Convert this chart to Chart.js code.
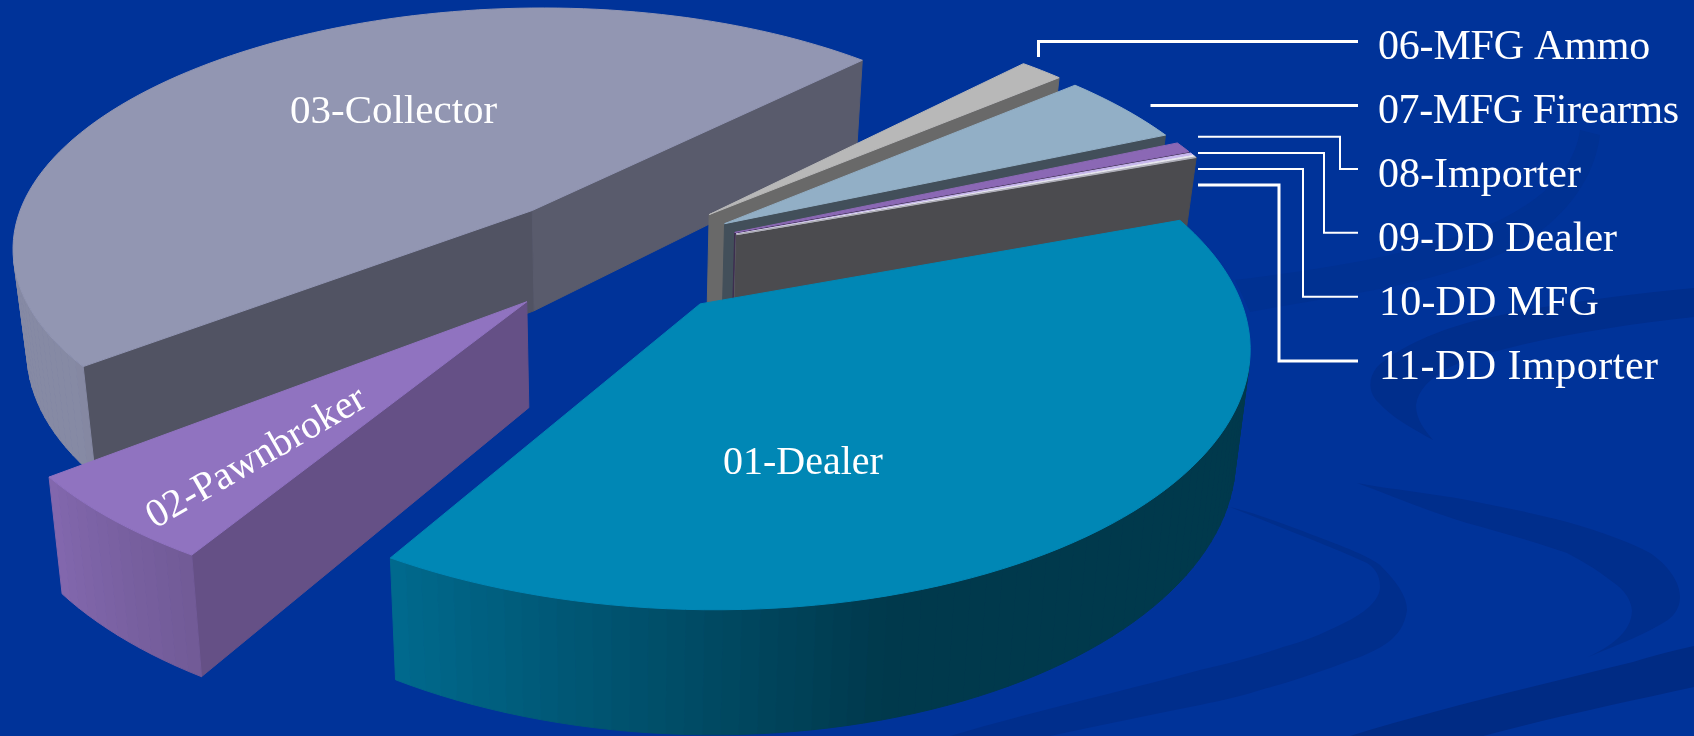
<!DOCTYPE html>
<html>
  <head>
    <meta charset="UTF-8">
    <title>License types</title>
    <script src="https://cdn.jsdelivr.net/npm/chart.js"></script>
    <style>
      html, body {
        margin: 0;
        width: 1694px;
        height: 736px;
        overflow: hidden;
        background-color: #003399;
      }
      svg, canvas {
        position: absolute;
        left: 0;
        top: 0;
      }
    </style>
  </head>
  <body>
    <svg width="1694" height="736" fill="#002e8c">
      <path d="M1235 280 C1330 268 1420 255 1500 220 C1550 195 1575 165 1580 130 L1600 135 C1595 175 1570 215 1520 245 C1440 285 1340 295 1250 312 Z" fill="#003192"/>
      <path d="M1694 288 C1620 295 1530 307 1470 322 C1430 333 1395 350 1377 367 C1368 378 1368 392 1378 402 C1392 418 1415 430 1433 440 C1425 430 1416 420 1416 405 C1418 390 1430 378 1450 367 C1500 345 1600 327 1694 317 Z"/>
      <path d="M1357 483 C1395 490 1430 493 1467 500 C1500 507 1535 513 1567 522 C1605 533 1632 543 1650 553 C1668 565 1680 582 1680 597 C1680 610 1672 618 1663 623 C1640 637 1612 647 1588 657 C1610 647 1632 632 1632 610 C1630 595 1620 587 1610 580 C1595 568 1580 560 1567 553 C1535 542 1500 532 1467 523 C1430 512 1395 497 1357 483 Z"/>
      <path d="M1230 507 C1255 513 1280 523 1300 530 C1330 542 1362 552 1380 565 C1395 580 1407 595 1407 610 C1405 625 1398 635 1387 643 C1370 655 1350 660 1333 667 C1310 675 1290 682 1267 688 C1245 695 1225 700 1200 705 C1150 715 1100 725 1050 736 L950 736 C1030 712 1120 692 1200 670 C1230 663 1260 655 1283 647 C1310 640 1330 630 1350 620 C1365 612 1380 600 1380 587 C1380 575 1375 568 1367 563 C1345 553 1320 543 1300 535 C1275 525 1250 515 1230 507 Z"/>
      <path d="M1694 646 C1670 651 1650 657 1633 662 C1540 685 1440 708 1350 736 L1483 736 C1550 718 1625 702 1694 687 Z" fill="#002b84"/>
    </svg>
    <canvas id="myChart" width="1694" height="736"></canvas>

    <script>
      const categories = ["01-Dealer", "02-Pawnbroker", "03-Collector", "06-MFG Ammo", "07-MFG Firearms",
        "08-Importer", "09-DD Dealer", "10-DD MFG", "11-DD Importer"];
      const shares = [39.2, 5.75, 47.8, 1.58, 4.6, 0.7, 0.15, 0.1, 0.05];
      const sliceColors = ["#0087b5", "#9073c0", "#9296b2", "#b8b8b8", "#92afc6", "#8b68b5", "#c8b8ee", "#e8e8f0", "#b0b0ba"];

      // text placement: x, y, font size, angle, letter spacing
      const labelSpots = [
        [723, 474, 40, 0, 0],
        [155, 529, 40, -30, 0],
        [290, 123, 41, 0, 0],
        [1378, 59, 42, 0, -0.2],
        [1378, 123, 42, 0, -0.4],
        [1378, 187, 42, 0, 0],
        [1378, 251, 42, 0, 0],
        [1379, 315, 42, 0, 0.2],
        [1379, 379, 42, 0, 0.5],
      ];
      const leaders = [
        [[1038.5, 57], [1038.5, 41.5], [1358, 41.5]],
        [[1150.5, 105.5], [1358, 105.5]],
        [[1198, 136.7], [1340, 136.7], [1340, 169], [1358, 169]],
        [[1198, 153], [1324, 153], [1324, 232.7], [1358, 232.7]],
        [[1198, 169], [1303, 169], [1303, 296.7], [1358, 296.7]],
        [[1198, 185], [1279, 185], [1279, 361], [1358, 361]],
      ];
      const leaderWidths = [3, 3, 2, 2, 2, 3];

      // camera for the tilted pie, world unit = pie radius
      const focusX = 616;
      const horizonY = -1400;
      const baseY = 255;
      const scaleX = 519;
      const tilt = 0.1478;
      const wallH = 103;
      const wallPinch = 0.023;
      const explode = 0.25;
      const sideBulge = 0.014;

      function project(X, Y, z) {
        const w = 1 + tilt * Y;
        return [
          focusX + scaleX * X / w * (1 - wallPinch * z),
          horizonY + (baseY - horizonY + wallH * z) / w,
        ];
      }

      function dim(hex, k) {
        const n = parseInt(hex.slice(1), 16);
        const r = Math.round((n >> 16) * k);
        const g = Math.round(((n >> 8) & 255) * k);
        const b = Math.round((n & 255) * k);
        return `rgb(${r},${g},${b})`;
      }

      function normalDeg(rad) {
        let d = rad * 180 / Math.PI;
        while (d > 180) d -= 360;
        while (d <= -180) d += 360;
        return d;
      }

      function rimShade(n) {
        if (n > 0 && n < 90) return 0.42;
        if (n >= 90 || n < -145) return 0.92;
        if (n < -121) return 0.78 + (-121 - n) * 0.14 / 24;
        if (n < -74) return 0.42 + (-74 - n) * 0.36 / 47;
        return 0.42;
      }

      function flatShade(n) {
        return Math.min(0.9, Math.max(0.3, 0.43 + (n + 70) * 0.007));
      }

      function fillPoly(ctx, pts, color) {
        ctx.beginPath();
        pts.forEach((p, i) => (i ? ctx.lineTo(p[0], p[1]) : ctx.moveTo(p[0], p[1])));
        ctx.closePath();
        ctx.fillStyle = color;
        ctx.strokeStyle = color;
        ctx.lineWidth = 1;
        ctx.fill();
        ctx.stroke();
      }

      function drawSlice(ctx, arc) {
        const a0 = arc.startAngle;
        const a1 = arc.endAngle;
        const mid = (a0 + a1) / 2;
        const cx = explode * Math.cos(mid);
        const cy = -explode * Math.sin(mid);
        const color = arc.options.backgroundColor;

        const steps = Math.max(1, Math.ceil((a1 - a0) / 0.03));
        const edge = [[cx, cy, flatShade(normalDeg(-a0 + Math.PI / 2))]];
        for (let i = 0; i <= steps; i++) {
          const t = a0 + (a1 - a0) * i / steps;
          const k = i === steps ? flatShade(normalDeg(-a1 - Math.PI / 2))
            : rimShade(normalDeg(-(t + (a1 - a0) / steps / 2)));
          const r = 1 + sideBulge * Math.pow(Math.cos(t), 4);
          edge.push([cx + r * Math.cos(t), cy - r * Math.sin(t), k]);
        }

        for (let i = 0; i < edge.length; i++) {
          const p = edge[i];
          const q = edge[(i + 1) % edge.length];
          const quad = [project(p[0], p[1], 0), project(q[0], q[1], 0), project(q[0], q[1], 1), project(p[0], p[1], 1)];
          let area = 0;
          quad.forEach((u, j) => {
            const v = quad[(j + 1) % 4];
            area += u[0] * v[1] - v[0] * u[1];
          });
          if (area < 0) fillPoly(ctx, quad, dim(color, p[2]));
        }
        fillPoly(ctx, edge.map((p) => project(p[0], p[1], 0)), color);
      }

      const tiltedPie = {
        id: "tiltedPie",
        beforeDatasetsDraw(chart) {
          const ctx = chart.ctx;
          const arcs = chart.getDatasetMeta(0).data.slice();
          // far slices first
          arcs.sort((a, b) => Math.sin((a.startAngle + a.endAngle) / 2) - Math.sin((b.startAngle + b.endAngle) / 2));
          ctx.save();
          arcs.forEach((arc) => drawSlice(ctx, arc));
          ctx.restore();
          return false;
        },
        afterDraw(chart) {
          const ctx = chart.ctx;
          ctx.save();
          ctx.strokeStyle = "#ffffff";
          ctx.lineJoin = "miter";
          leaders.forEach((path, i) => {
            ctx.lineWidth = leaderWidths[i];
            ctx.beginPath();
            path.forEach((p, j) => (j ? ctx.lineTo(p[0], p[1]) : ctx.moveTo(p[0], p[1])));
            ctx.stroke();
          });
          ctx.fillStyle = "#ffffff";
          ctx.textBaseline = "alphabetic";
          categories.forEach((text, i) => {
            const s = labelSpots[i];
            ctx.save();
            ctx.translate(s[0], s[1]);
            ctx.rotate(s[3] * Math.PI / 180);
            ctx.font = s[2] + 'px "Liberation Serif"';
            ctx.letterSpacing = s[4] + "px";
            ctx.fillText(text, 0, 0);
            ctx.restore();
          });
          ctx.restore();
        },
      };

      new Chart(document.getElementById("myChart"), {
        type: "pie",
        data: {
          labels: categories,
          datasets: [{
            data: shares,
            backgroundColor: sliceColors,
            borderWidth: 0,
          }],
        },
        options: {
          responsive: false,
          animation: false,
          devicePixelRatio: 1,
          rotation: 70.4,
          plugins: {
            legend: { display: false },
            tooltip: { enabled: false },
          },
        },
        plugins: [tiltedPie],
      });
    </script>
  </body>
</html>
